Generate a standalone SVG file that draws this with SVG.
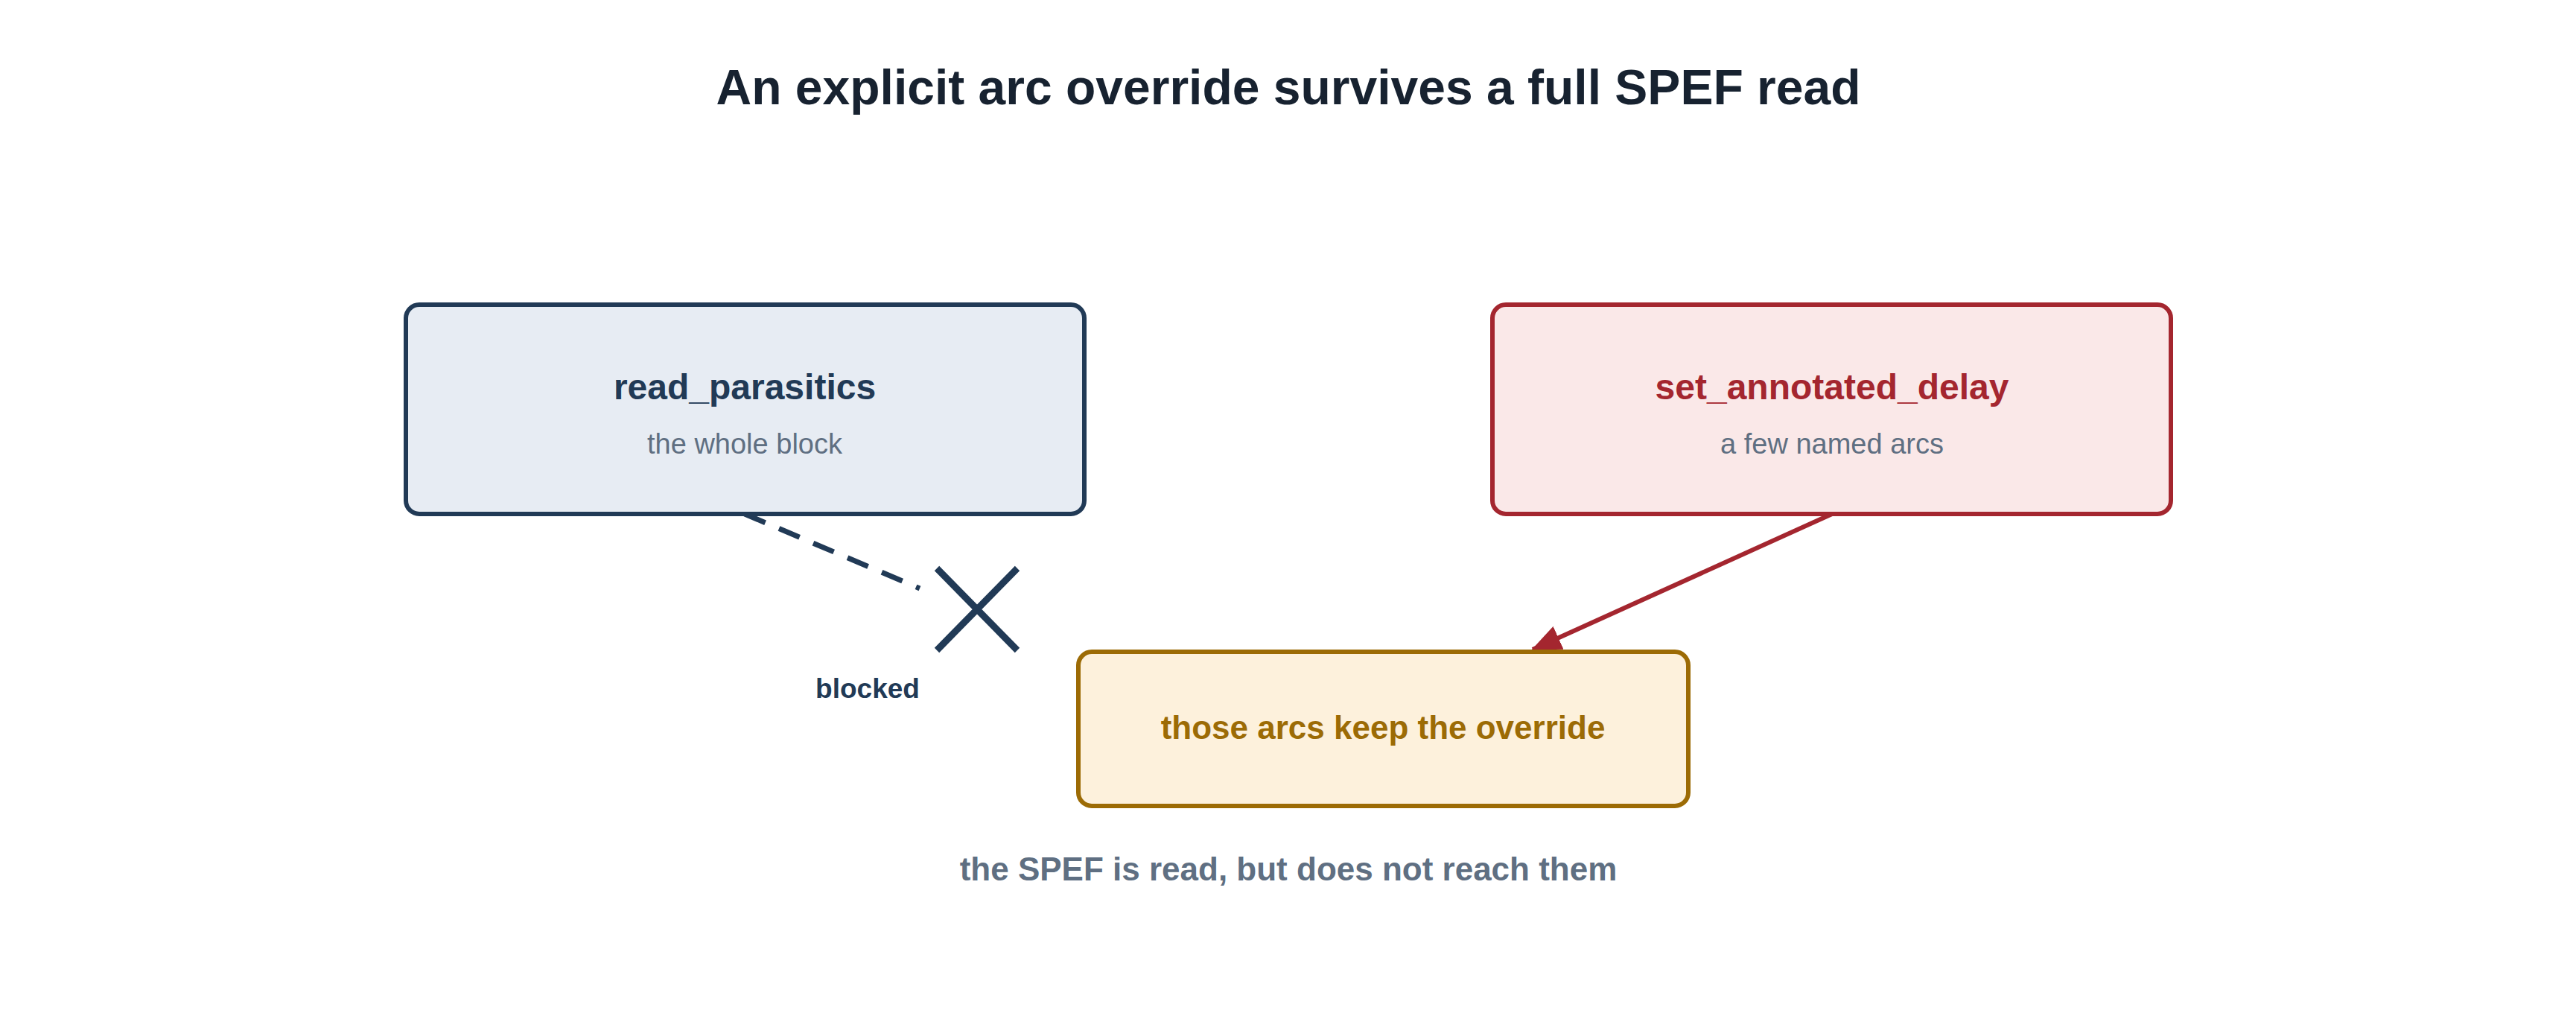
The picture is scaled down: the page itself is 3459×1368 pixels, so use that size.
<svg xmlns="http://www.w3.org/2000/svg" width="3459" height="1368" viewBox="0 0 3459 1368">
<style>
text{font-family:"Liberation Sans",Arial,sans-serif;text-anchor:middle}
.t{font-weight:bold;font-size:48px}
.s{font-size:38px;fill:#5f6f82}
</style>
<defs><marker id="ah" markerWidth="12" markerHeight="10" refX="11" refY="5" orient="auto" markerUnits="userSpaceOnUse" viewBox="0 0 12 10"><path d="M0,0L12,5L0,10z" fill="#a4262f"/></marker>
<marker id="a" markerWidth="40" markerHeight="34" refX="38" refY="17" orient="auto" markerUnits="userSpaceOnUse"><path d="M0,0L40,17L0,34z" fill="#a4262f"/></marker></defs>
<rect width="3459" height="1368" fill="#fff"/>
<text x="1730" y="140" style="font-weight:bold;font-size:66px" fill="#172230">An explicit arc override survives a full SPEF read</text>
<g id="connectors">
<line x1="1000" y1="690" x2="1235" y2="790" stroke="#213a56" stroke-width="7" stroke-dasharray="30,20"/>
<path d="M1258,763L1366,873M1366,763L1258,873" stroke="#213a56" stroke-width="9" fill="none"/>
<text x="1165" y="937" style="font-weight:bold;font-size:37px" fill="#213a56">blocked</text>
<line x1="2460" y1="690" x2="2058" y2="872" stroke="#a4262f" stroke-width="6" marker-end="url(#a)"/>
</g>
<g id="read_parasitics">
<rect x="545" y="409" width="911" height="281" rx="18" fill="#e7ecf3" stroke="#213a56" stroke-width="6"/>
<text class="t" x="1000" y="536" fill="#213a56">read_parasitics</text>
<text class="s" x="1000" y="609">the whole block</text>
</g>
<g id="set_annotated_delay">
<rect x="2004" y="409" width="911" height="281" rx="18" fill="#fae8e8" stroke="#a4262f" stroke-width="6"/>
<text class="t" x="2460" y="536" fill="#a4262f">set_annotated_delay</text>
<text class="s" x="2460" y="609">a few named arcs</text>
</g>
<g id="keep">
<rect x="1448" y="875" width="819" height="207" rx="18" fill="#fdf1dc" stroke="#9c6b05" stroke-width="6"/>
<text x="1857" y="992" style="font-weight:bold;font-size:44px" fill="#9c6b05">those arcs keep the override</text>
</g>
<text x="1730" y="1182" style="font-weight:bold;font-size:44px" fill="#5f6f82">the SPEF is read, but does not reach them</text>
</svg>
